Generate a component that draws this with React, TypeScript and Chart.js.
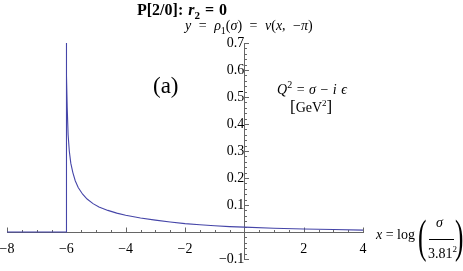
import React, { useEffect, useRef } from "react";
import { Chart, registerables } from "chart.js";

Chart.register(...registerables);

// Curve samples: x = log(sigma / 3.81^2), y = rho_1(sigma)
const curveX = [-8, -6, -6, -5.99, -5.97, -5.94, -5.9, -5.85, -5.78, -5.7, -5.6, -5.45, -5.3, -5.1, -4.9, -4.6, -4.3, -4, -3.5, -3, -2.5, -2, -1.5, -1, -0.5, 0, 1, 2, 3, 4];
const curveY = [0, 0, 0.75, 0.58, 0.46, 0.36, 0.3, 0.255, 0.22, 0.19, 0.165, 0.14, 0.122, 0.105, 0.093, 0.08, 0.07, 0.062, 0.052, 0.044, 0.037, 0.031, 0.027, 0.023, 0.02, 0.018, 0.014, 0.011, 0.009, 0.007];

const xMin = -8;
const xMax = 4;
const xMajorStep = 2;
const xMinorStep = 0.5;
const yMin = -0.1;
const yMax = 0.7;
const yMajorStep = 0.1;
const yMinorStep = 0.02;

const AXIS_COLOR = "#666666";
const CURVE_COLOR = "#4545a8";
const SERIF = "'Liberation Serif', 'Times New Roman', 'DejaVu Serif', serif";

function fmt(v: number, digits: number): string {
  if (Math.abs(v) < 1e-9) return "";
  const s = Math.abs(v).toFixed(digits);
  return v < 0 ? "\u2212" + s : s;
}

const mmaTicks = {
  id: "mmaTicks",
  beforeDatasetsDraw(chart: any) {
    const { ctx, scales } = chart;
    const xs = scales.x;
    const ys = scales.y;
    const y0 = Math.round(ys.getPixelForValue(0)) + 0.5;
    const x0 = Math.round(xs.getPixelForValue(0)) + 0.5;
    ctx.save();
    ctx.strokeStyle = AXIS_COLOR;
    ctx.lineWidth = 1;
    ctx.beginPath();
    const nx = Math.round((xMax - xMin) / xMinorStep);
    const perMajorX = Math.round(xMajorStep / xMinorStep);
    for (let i = 0; i <= nx; i++) {
      const v = xMin + i * xMinorStep;
      if (Math.abs(v) < 1e-9) continue;
      const px = Math.round(xs.getPixelForValue(v)) + 0.5;
      const len = i % perMajorX === 0 ? 5 : 2.5;
      ctx.moveTo(px, y0);
      ctx.lineTo(px, y0 - len);
    }
    const ny = Math.round((yMax - yMin) / yMinorStep);
    const perMajorY = Math.round(yMajorStep / yMinorStep);
    for (let i = 0; i <= ny; i++) {
      const v = yMin + i * yMinorStep;
      if (Math.abs(v) < 1e-9) continue;
      const py = Math.round(ys.getPixelForValue(v)) + 0.5;
      const len = i % perMajorY === 0 ? 4.5 : 2.5;
      ctx.moveTo(x0, py);
      ctx.lineTo(x0 + len, py);
    }
    ctx.stroke();
    ctx.restore();
  },
};

const zeroPadding = (scale: any) => {
  scale.paddingLeft = 0;
  scale.paddingRight = 0;
  scale.paddingTop = 0;
  scale.paddingBottom = 0;
};

function ChartCanvas() {
  const ref = useRef<HTMLCanvasElement | null>(null);
  useEffect(() => {
    if (!ref.current) return;
    const points = curveX.map((x, i) => ({ x, y: curveY[i] }));
    const tickFont = { family: SERIF, size: 14 };
    const chart = new Chart(ref.current, {
      type: "line",
      data: {
        datasets: [
          {
            data: points,
            borderColor: CURVE_COLOR,
            borderWidth: 1.1,
            pointRadius: 0,
            tension: 0,
            fill: false,
          },
        ],
      },
      options: {
        responsive: false,
        animation: false,
        events: [],
        layout: { padding: { left: 7, right: 100, top: 43, bottom: 12 } },
        plugins: { legend: { display: false }, tooltip: { enabled: false }, title: { display: false } },
        scales: {
          x: {
            type: "linear",
            min: xMin,
            max: xMax,
            position: { y: 0 } as any,
            grid: { display: false, drawTicks: false },
            border: { display: true, color: AXIS_COLOR, width: 1 },
            afterFit: zeroPadding,
            ticks: {
              stepSize: xMajorStep,
              color: "#000",
              font: tickFont,
              padding: 9,
              maxRotation: 0,
              autoSkip: false,
              callback: (v: any) => fmt(Number(v), 0),
            },
          },
          y: {
            type: "linear",
            min: yMin,
            max: yMax,
            position: { x: 0 } as any,
            grid: { display: false, drawTicks: false },
            border: { display: true, color: AXIS_COLOR, width: 1 },
            afterFit: zeroPadding,
            ticks: {
              stepSize: yMajorStep,
              color: "#000",
              font: tickFont,
              padding: 5,
              autoSkip: false,
              callback: (v: any) => fmt(Number(v), 1),
            },
          },
        },
      },
      plugins: [mmaTicks],
    } as any);
    return () => chart.destroy();
  }, []);
  return <canvas ref={ref} width={463} height={271} style={{ position: "absolute", left: 0, top: 0 }} />;
}

const abs = (left: number, top: number, extra: React.CSSProperties = {}): React.CSSProperties => ({
  position: "absolute",
  left,
  top,
  whiteSpace: "nowrap",
  fontFamily: SERIF,
  color: "#000",
  lineHeight: 1,
  ...extra,
});

export default function App() {
  return (
    <div style={{ position: "absolute", left: 0, top: 0, width: 463, height: 271, background: "#fff", overflow: "hidden" }}>
      <ChartCanvas />
      <div style={abs(137, 2, { fontSize: 16, fontWeight: "bold", wordSpacing: 1 })}>
        P[2/0]: <i>r</i>
        <sub style={{ fontSize: 11 }}>2</sub> = 0
      </div>
      <div style={abs(185, 19, { fontSize: 14, wordSpacing: 4 })}>
        <i>y</i> = <i>ρ</i>
        <sub style={{ fontSize: 10 }}>1</sub>(<i>σ</i>) = <i>v</i>(<i>x</i>, −<i>π</i>)
      </div>
      <div style={abs(153, 74, { fontSize: 23 })}>(a)</div>
      <div style={abs(277, 80, { fontSize: 14, wordSpacing: 1 })}>
        <i>Q</i>
        <sup style={{ fontSize: 10 }}>2</sup> = <i>σ</i> − <i>i</i> <i>ϵ</i>
      </div>
      <div style={abs(290, 98, { fontSize: 14 })}>
        <span style={{ fontSize: 17 }}>[</span>GeV<sup style={{ fontSize: 9 }}>2</sup>
        <span style={{ fontSize: 17 }}>]</span>
      </div>
      <div style={abs(376, 228, { fontSize: 14 })}>
        <i>x</i> = log
      </div>
      <div style={abs(418, 214, { fontSize: 46, transform: "scaleX(0.55)", transformOrigin: "left top" })}>(</div>
      <div style={abs(436, 216, { fontSize: 14 })}>
        <i>σ</i>
      </div>
      <div style={{ position: "absolute", left: 429, top: 239, width: 25, height: 1, background: "#000" }} />
      <div style={abs(428, 245, { fontSize: 14 })}>
        3.81<sup style={{ fontSize: 9 }}>2</sup>
      </div>
      <div style={abs(455, 214, { fontSize: 46, transform: "scaleX(0.55)", transformOrigin: "left top" })}>)</div>
    </div>
  );
}
